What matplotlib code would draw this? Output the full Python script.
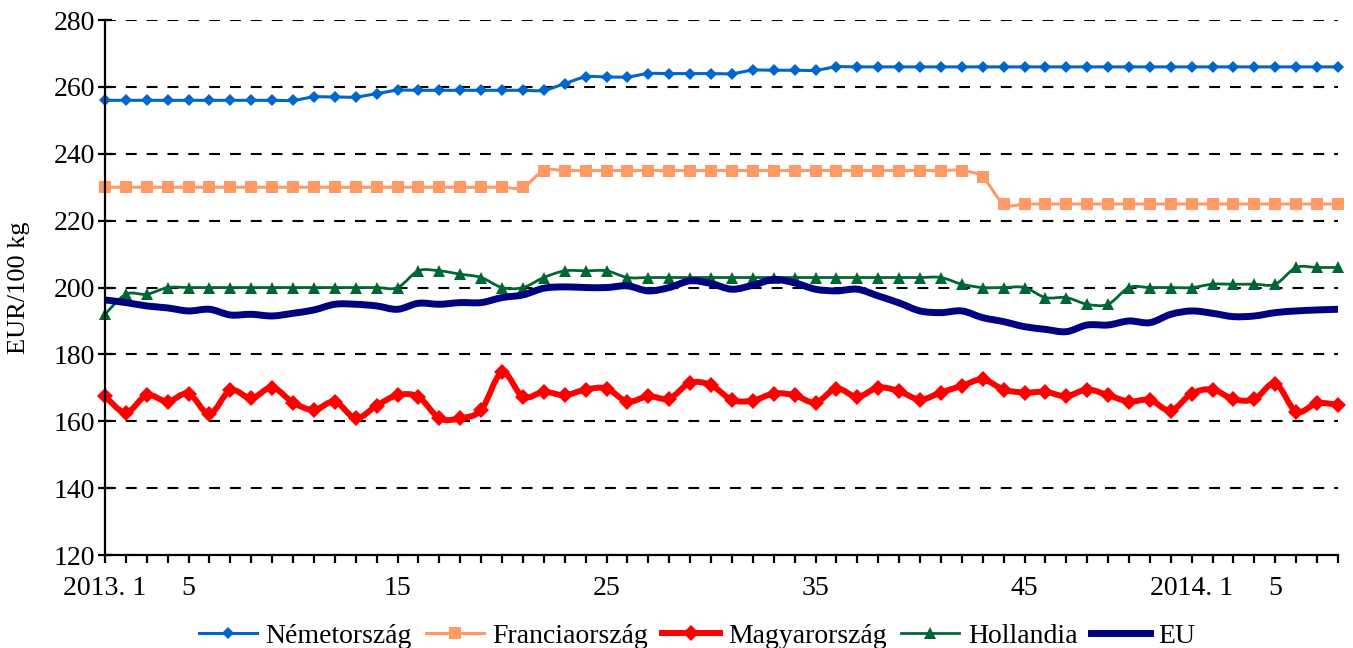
import numpy as np
import matplotlib
matplotlib.use("Agg")
import matplotlib.pyplot as plt
from matplotlib.path import Path
from matplotlib.patches import PathPatch
from matplotlib.lines import Line2D

plt.rcParams['font.family'] = ['Liberation Serif', 'DejaVu Serif']

# weeks: 2013 week 1..52, 2014 week 1..8
tick_pos = [0, 4, 14, 24, 34, 44, 52, 56]
tick_txt = ["2013. 1", "5", "15", "25", "35", "45", "2014. 1", "5"]

nemet = [256, 256, 256, 256, 256, 256, 256, 256, 256, 256,
         257, 257, 257, 258, 259, 259, 259, 259, 259, 259,
         259, 259, 261, 263, 263, 263, 264, 264, 264, 264,
         264, 265, 265, 265, 265, 266, 266, 266, 266, 266,
         266, 266, 266, 266, 266, 266, 266, 266, 266, 266,
         266, 266, 266, 266, 266, 266, 266, 266, 266, 266]

francia = [230, 230, 230, 230, 230, 230, 230, 230, 230, 230,
           230, 230, 230, 230, 230, 230, 230, 230, 230, 230,
           230, 235, 235, 235, 235, 235, 235, 235, 235, 235,
           235, 235, 235, 235, 235, 235, 235, 235, 235, 235,
           235, 235, 233, 225, 225, 225, 225, 225, 225, 225,
           225, 225, 225, 225, 225, 225, 225, 225, 225, 225]

magyar = [167.5, 162.6, 167.8, 165.9, 168.3, 162.2, 169.3, 166.9, 170.1, 165.6,
          163.4, 165.9, 160.9, 164.7, 167.8, 167.3, 160.9, 160.9, 163.4, 174.6,
          167.3, 168.8, 167.8, 169.5, 169.8, 165.9, 167.5, 166.8, 171.5, 170.8,
          166.4, 166.2, 168.3, 167.8, 165.6, 169.8, 167.3, 170.1, 169.0, 166.5,
          168.6, 170.6, 172.5, 169.5, 168.6, 168.8, 167.5, 169.5, 167.8, 165.9,
          166.4, 163.2, 168.3, 169.5, 166.6, 166.6, 171.3, 162.9, 165.4, 164.9]

holland = [192, 198, 198, 200, 200, 200, 200, 200, 200, 200,
           200, 200, 200, 200, 200, 205, 205, 204, 203, 200,
           200, 203, 205, 205, 205, 203, 203, 203, 203, 203,
           203, 203, 203, 203, 203, 203, 203, 203, 203, 203,
           203, 201, 200, 200, 200, 197, 197, 195, 195, 200,
           200, 200, 200, 201, 201, 201, 201, 206, 206, 206]

eu = [196.3, 195.5, 194.5, 193.9, 193.0, 193.5, 191.8, 192.0, 191.5, 192.3,
      193.3, 195.0, 195.0, 194.5, 193.5, 195.3, 195.0, 195.5, 195.5, 197.0,
      197.8, 199.8, 200.2, 200.0, 200.0, 200.5, 199.0, 200.0, 202.0, 201.2,
      199.5, 200.7, 202.4, 201.4, 199.5, 199.0, 199.5, 197.5, 195.4, 193.0,
      192.5, 193.0, 191.0, 189.8, 188.3, 187.5, 186.8, 188.8, 188.8, 190.0,
      189.5, 192.0, 193.0, 192.3, 191.3, 191.5, 192.5, 193.0, 193.3, 193.5]

weeks = np.arange(len(nemet))


def smooth(ax, x, y, **kw):
    # Excel-like smoothed line: cubic bezier through the points
    x = np.asarray(x, float)
    y = np.asarray(y, float)
    n = len(x)
    verts = [(x[0], y[0])]
    codes = [Path.MOVETO]
    for i in range(n - 1):
        x0, y0 = (x[i - 1], y[i - 1]) if i > 0 else (x[i], y[i])
        x3, y3 = (x[i + 2], y[i + 2]) if i + 2 < n else (x[i + 1], y[i + 1])
        c1 = (x[i] + (x[i + 1] - x0) / 6, y[i] + (y[i + 1] - y0) / 6)
        c2 = (x[i + 1] - (x3 - x[i]) / 6, y[i + 1] - (y3 - y[i]) / 6)
        verts += [c1, c2, (x[i + 1], y[i + 1])]
        codes += [Path.CURVE4] * 3
    ax.add_patch(PathPatch(Path(verts, codes), fill=False, capstyle='round',
                           joinstyle='round', **kw))


fig = plt.figure(figsize=(13.53, 6.48), dpi=100)
ax = fig.add_axes([0.0776, 0.1435, 0.9113, 0.8255])

series = [
    ("Németország", nemet, '#0066CC', 2.2, 'D', 6.5),
    ("Franciaország", francia, '#FF9966', 2.2, 's', 8.5),
    ("Magyarország", magyar, '#FF0000', 4.3, 'D', 8.0),
    ("Hollandia", holland, '#006633', 2.0, '^', 9.0),
    ("EU", eu, '#000080', 5.0, None, 0),
]

handles = []
for z, (name, vals, col, lw, mk, ms) in enumerate(series):
    smooth(ax, weeks, vals, edgecolor=col, linewidth=lw, zorder=3 + z)
    if mk:
        ax.plot(weeks, vals, linestyle='none', marker=mk, markersize=ms,
                color=col, markeredgewidth=0, zorder=3 + z, clip_on=False)
    handles.append(Line2D([], [], color=col, linewidth=lw, marker=mk,
                          markersize=ms, markeredgewidth=0))

ax.set_xlim(0, len(weeks) - 1)
ax.set_ylim(120, 280)
ax.set_yticks(range(120, 281, 20))
ax.yaxis.grid(True, color='black', linewidth=1.5, linestyle=(0, (5.2, 4.8)))
ax.set_axisbelow(True)

ax.set_xticks(weeks)
labels = [""] * len(weeks)
for p, t in zip(tick_pos, tick_txt):
    labels[p] = t
ax.set_xticklabels(labels)

for s in ['top', 'right']:
    ax.spines[s].set_visible(False)
for s in ['left', 'bottom']:
    ax.spines[s].set_linewidth(1.6)
    ax.spines[s].set_zorder(10)

ax.tick_params(axis='y', direction='inout', length=10, width=1.6,
               labelsize=20, pad=2)
ax.tick_params(axis='x', direction='out', length=6, width=1.6,
               labelsize=20, pad=9)
ax.set_ylabel("EUR/100 kg", fontsize=19)
ax.yaxis.set_label_coords(-0.061, 0.5)

fig.legend(handles, [s[0] for s in series], loc='lower center',
           bbox_to_anchor=(0.515, -0.04), ncol=5, frameon=False,
           fontsize=20, handlelength=2.1, columnspacing=0.5, handletextpad=0.3)

fig.savefig("out.png", dpi=100)
